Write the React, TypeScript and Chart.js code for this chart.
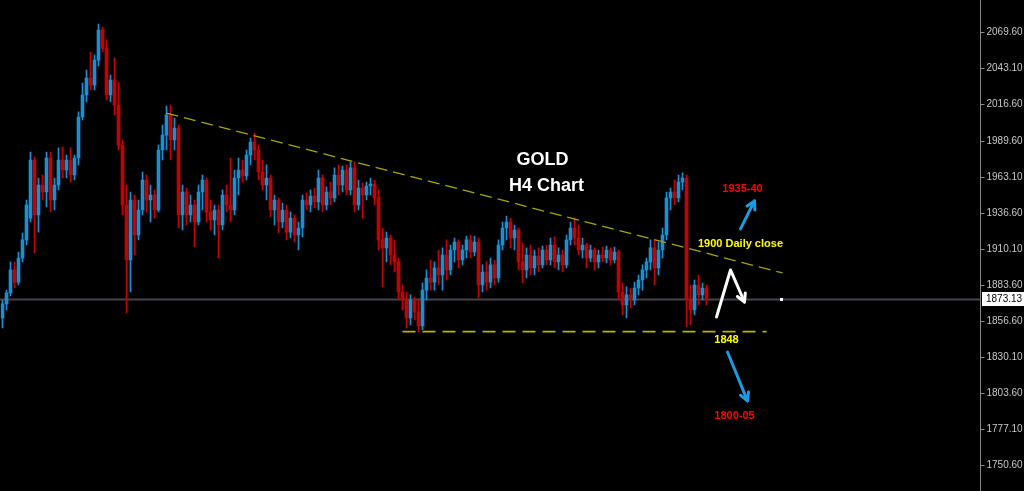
import React, { useEffect, useRef } from 'react';
import { Chart, registerables } from 'chart.js';

Chart.register(...registerables);

// ---- candle data (H4 gold) ----
const openPrices = [
  1859.4, 1869.7, 1877.8, 1894.7, 1885.8, 1903.5, 1916.8, 1932.9, 1975.6, 1935.2,
  1957.2, 1952.1, 1977.1, 1946.2, 1957.2, 1975.6, 1968.3, 1975.6, 1964.6, 1977.1,
  2007.3, 2023.5, 2036.0, 2030.8, 2049.2, 2071.3, 2058.1, 2023.5, 2034.5, 2016.1,
  1986.7, 1942.5, 1902.0, 1946.2, 1920.4, 1938.8, 1960.9, 1946.2, 1949.9, 1938.8,
  1983.0, 1994.0, 2008.8, 1990.4, 1999.2, 1935.2, 1952.1, 1935.2, 1942.5, 1930.0,
  1952.1, 1960.9, 1937.4, 1931.5, 1938.8, 1927.8, 1949.9, 1942.5, 1938.8, 1962.4,
  1968.3, 1963.9, 1979.3, 1988.9, 1983.0, 1966.8, 1957.2, 1962.4, 1938.8, 1946.2,
  1930.0, 1938.8, 1922.6, 1932.9, 1920.4, 1925.6, 1946.2, 1942.5, 1949.1, 1944.7,
  1962.4, 1942.5, 1952.1, 1947.7, 1964.6, 1957.2, 1968.3, 1953.6, 1969.8, 1942.5,
  1955.0, 1949.9, 1956.5, 1958.0, 1947.7, 1916.8, 1910.9, 1918.2, 1905.7, 1900.6,
  1878.5, 1872.6, 1859.4, 1872.6, 1863.8, 1853.5, 1879.9, 1888.8, 1885.8, 1896.2,
  1891.0, 1905.7, 1894.7, 1909.4, 1915.3, 1902.0, 1909.4, 1916.8, 1907.9, 1915.3,
  1883.6, 1893.2, 1885.8, 1898.4, 1888.8, 1913.1, 1925.6, 1930.0, 1918.2, 1924.1,
  1900.6, 1894.7, 1905.7, 1896.2, 1905.0, 1898.4, 1909.4, 1902.0, 1913.1, 1900.6,
  1905.7, 1898.4, 1916.8, 1925.6, 1918.2, 1909.4, 1913.1, 1903.5, 1909.4, 1900.6,
  1905.7, 1903.5, 1909.4, 1902.0, 1907.9, 1878.5, 1868.9, 1876.3, 1872.6, 1881.4,
  1887.3, 1894.7, 1900.6, 1910.9, 1896.2, 1909.4, 1920.4, 1947.7, 1952.1, 1947.7,
  1959.4, 1962.4, 1872.6, 1865.2, 1883.6, 1876.3, 1881.4,
];
const highPrices = [
  1872.6, 1879.9, 1900.6, 1900.6, 1907.9, 1921.9, 1946.2, 1981.5, 1977.8, 1962.4,
  1964.6, 1981.5, 1981.5, 1962.4, 1984.5, 1985.2, 1979.3, 1984.5, 1979.3, 2011.0,
  2032.3, 2041.9, 2055.1, 2052.9, 2075.7, 2073.5, 2064.0, 2038.2, 2050.7, 2033.0,
  1990.4, 1957.2, 1952.1, 1949.9, 1946.2, 1966.8, 1964.6, 1957.2, 1953.6, 1986.7,
  2001.4, 2015.4, 2016.1, 2006.5, 2001.4, 1957.2, 1955.0, 1949.9, 1946.2, 1957.2,
  1964.6, 1962.4, 1946.2, 1942.5, 1942.5, 1953.6, 1957.2, 1977.1, 1968.3, 1977.1,
  1975.6, 1983.0, 1991.8, 1995.5, 1986.7, 1975.6, 1972.0, 1964.6, 1949.9, 1947.7,
  1944.0, 1942.5, 1937.4, 1935.2, 1930.0, 1949.9, 1951.4, 1953.6, 1955.0, 1968.3,
  1964.6, 1955.8, 1959.4, 1969.8, 1972.0, 1971.2, 1972.0, 1974.2, 1974.2, 1960.9,
  1958.7, 1959.4, 1962.4, 1960.9, 1953.6, 1925.6, 1922.6, 1920.4, 1916.8, 1903.5,
  1883.6, 1878.5, 1876.3, 1874.8, 1872.6, 1885.1, 1894.7, 1902.0, 1900.6, 1909.4,
  1910.9, 1916.8, 1913.1, 1918.2, 1916.8, 1913.1, 1919.7, 1920.4, 1919.7, 1918.2,
  1898.4, 1900.6, 1903.5, 1902.0, 1916.8, 1930.0, 1934.4, 1932.9, 1927.8, 1925.6,
  1914.5, 1910.9, 1913.1, 1909.4, 1910.9, 1912.3, 1913.1, 1918.2, 1919.0, 1910.9,
  1909.4, 1920.4, 1930.0, 1932.9, 1927.8, 1918.2, 1914.5, 1913.1, 1910.9, 1909.4,
  1911.6, 1912.3, 1910.9, 1911.6, 1909.4, 1885.1, 1882.2, 1881.4, 1885.8, 1891.0,
  1898.4, 1903.5, 1916.8, 1916.8, 1915.3, 1925.6, 1952.1, 1955.0, 1960.9, 1964.6,
  1966.1, 1964.6, 1883.6, 1887.3, 1891.0, 1885.1, 1883.6,
];
const lowPrices = [
  1852.0, 1865.2, 1875.5, 1881.4, 1883.6, 1900.6, 1913.1, 1930.0, 1907.2, 1922.6,
  1946.2, 1941.1, 1937.4, 1938.8, 1953.6, 1962.4, 1962.4, 1959.4, 1960.9, 1972.0,
  2005.1, 2018.3, 2027.2, 2027.2, 2044.8, 2055.1, 2019.8, 2018.3, 2008.8, 1983.0,
  1935.2, 1863.0, 1878.5, 1905.7, 1916.8, 1935.2, 1937.4, 1930.0, 1932.9, 1937.4,
  1975.6, 1983.0, 1975.6, 1983.0, 1925.6, 1924.1, 1927.8, 1930.0, 1911.6, 1927.8,
  1938.8, 1930.0, 1924.1, 1920.4, 1903.5, 1924.1, 1937.4, 1930.0, 1935.2, 1949.9,
  1959.4, 1960.9, 1972.0, 1975.6, 1960.9, 1953.6, 1946.2, 1933.7, 1927.8, 1921.9,
  1925.6, 1916.8, 1918.2, 1915.3, 1909.4, 1919.0, 1938.8, 1937.4, 1940.3, 1938.8,
  1937.4, 1938.8, 1942.5, 1944.7, 1949.9, 1952.1, 1949.9, 1949.9, 1937.4, 1938.8,
  1932.9, 1946.2, 1949.9, 1942.5, 1909.4, 1882.2, 1900.6, 1898.4, 1893.2, 1872.6,
  1865.2, 1852.0, 1854.2, 1857.9, 1849.0, 1850.5, 1872.6, 1879.9, 1879.9, 1883.6,
  1879.9, 1887.3, 1891.0, 1900.6, 1896.2, 1898.4, 1903.5, 1903.5, 1905.0, 1874.1,
  1878.5, 1879.9, 1881.4, 1883.6, 1885.8, 1909.4, 1916.8, 1910.9, 1909.4, 1894.7,
  1885.1, 1888.8, 1891.0, 1891.0, 1893.2, 1896.2, 1898.4, 1898.4, 1896.2, 1894.7,
  1893.2, 1896.2, 1913.1, 1913.1, 1905.7, 1903.5, 1896.2, 1900.6, 1894.7, 1896.2,
  1900.6, 1899.8, 1898.4, 1899.8, 1872.6, 1861.6, 1859.4, 1866.7, 1868.9, 1876.3,
  1879.9, 1888.8, 1894.7, 1883.6, 1891.0, 1903.5, 1916.8, 1938.8, 1942.5, 1944.7,
  1953.6, 1852.7, 1854.2, 1861.6, 1868.9, 1872.6, 1868.9,
];
const closePrices = [
  1869.7, 1877.8, 1894.7, 1885.8, 1903.5, 1916.8, 1942.5, 1975.6, 1935.2, 1957.2,
  1952.1, 1977.1, 1946.2, 1957.2, 1975.6, 1968.3, 1975.6, 1964.6, 1977.1, 2007.3,
  2023.5, 2036.0, 2030.8, 2049.2, 2071.3, 2058.1, 2023.5, 2034.5, 2016.1, 1986.7,
  1942.5, 1902.0, 1946.2, 1920.4, 1938.8, 1960.9, 1946.2, 1949.9, 1938.8, 1983.0,
  1994.0, 2008.8, 1990.4, 1999.2, 1935.2, 1952.1, 1935.2, 1942.5, 1930.0, 1952.1,
  1960.9, 1937.4, 1931.5, 1938.8, 1927.8, 1949.9, 1942.5, 1938.8, 1962.4, 1968.3,
  1963.9, 1979.3, 1988.9, 1983.0, 1966.8, 1957.2, 1962.4, 1938.8, 1946.2, 1930.0,
  1938.8, 1922.6, 1932.9, 1920.4, 1925.6, 1946.2, 1942.5, 1949.1, 1944.7, 1962.4,
  1942.5, 1952.1, 1947.7, 1964.6, 1957.2, 1968.3, 1953.6, 1969.8, 1942.5, 1955.0,
  1949.9, 1956.5, 1958.0, 1947.7, 1916.8, 1910.9, 1918.2, 1905.7, 1900.6, 1878.5,
  1872.6, 1859.4, 1872.6, 1863.8, 1853.5, 1879.9, 1888.8, 1885.8, 1896.2, 1891.0,
  1905.7, 1894.7, 1909.4, 1915.3, 1902.0, 1909.4, 1916.8, 1907.9, 1915.3, 1883.6,
  1893.2, 1885.8, 1898.4, 1888.8, 1913.1, 1925.6, 1930.0, 1918.2, 1924.1, 1900.6,
  1894.7, 1905.7, 1896.2, 1905.0, 1898.4, 1909.4, 1902.0, 1913.1, 1900.6, 1905.7,
  1898.4, 1916.8, 1925.6, 1918.2, 1909.4, 1913.1, 1903.5, 1909.4, 1900.6, 1905.7,
  1903.5, 1909.4, 1902.0, 1907.9, 1878.5, 1868.9, 1876.3, 1872.6, 1881.4, 1887.3,
  1894.7, 1900.6, 1910.9, 1896.2, 1909.4, 1920.4, 1947.7, 1952.1, 1947.7, 1959.4,
  1962.4, 1872.6, 1865.2, 1883.6, 1876.3, 1881.4, 1874.1,
];
const futureSlotCount = 68;

// ---- axis ----
const yTickValues = [2069.6, 2043.1, 2016.6, 1989.6, 1963.1, 1936.6, 1910.1, 1883.6, 1856.6, 1830.1, 1803.6, 1777.1, 1750.6];
const yMin = 1732.0;
const yMax = 2093.4;
const lastPrice = 1873.13;

// ---- drawn objects (bar slot index, price) ----
const trendLineIdx = [41, 195];
const trendLinePrice = [2010.2, 1892.5];
const supportLineIdx = [100, 191];
const supportLinePrice = [1849.3, 1849.3];
const noteTexts = ['GOLD', 'H4 Chart', '1935-40', '1900 Daily close', '1848', '1800-05'];
const noteIndex = [135, 136, 185, 184.5, 181, 183];
const notePrice = [1975.6, 1956.5, 1954.3, 1913.8, 1843.2, 1787.2];
const noteColors = ['#ffffff', '#ffffff', '#ff0000', '#ffff00', '#ffff00', '#ff0000'];
const noteSizes = [18, 18, 11, 11, 11, 11];
const arrowPaths = [
  [{ x: 184.5, y: 1924.9 }, { x: 188, y: 1945.5 }],
  [{ x: 178.5, y: 1860.1 }, { x: 182, y: 1894.7 }, { x: 185.5, y: 1871.1 }],
  [{ x: 181.25, y: 1834.3 }, { x: 186.25, y: 1798.3 }],
];
const arrowColors = ['#1c9ce0', '#ffffff', '#1c9ce0'];
const markerIndex = 194.5;

const UP = '#1a8fd4';
const DOWN = '#c80000';

const slotLabel = (i: number) => (i < openPrices.length ? 'c' + i : 'f' + (i - openPrices.length));

function drawArrow(ctx: CanvasRenderingContext2D, pts: number[][], color: string) {
  ctx.save();
  ctx.strokeStyle = color;
  ctx.lineWidth = 3;
  ctx.lineCap = 'round';
  ctx.lineJoin = 'round';
  ctx.beginPath();
  pts.forEach((p, i) => (i ? ctx.lineTo(p[0], p[1]) : ctx.moveTo(p[0], p[1])));
  ctx.stroke();
  const [x1, y1] = pts[pts.length - 2];
  const [x2, y2] = pts[pts.length - 1];
  const a = Math.atan2(y2 - y1, x2 - x1);
  const L = 9;
  ctx.beginPath();
  ctx.moveTo(x2 - L * Math.cos(a - 0.5), y2 - L * Math.sin(a - 0.5));
  ctx.lineTo(x2, y2);
  ctx.lineTo(x2 - L * Math.cos(a + 0.5), y2 - L * Math.sin(a + 0.5));
  ctx.stroke();
  ctx.restore();
}

const notesPlugin = {
  id: 'notes',
  beforeDatasetsDraw(chart: any) {
    const { ctx, chartArea, scales } = chart;
    const y = Math.round(scales.y.getPixelForValue(lastPrice)) + 0.5;
    ctx.save();
    ctx.strokeStyle = '#45454e';
    ctx.lineWidth = 2;
    ctx.beginPath();
    ctx.moveTo(0, y);
    ctx.lineTo(chartArea.right, y);
    ctx.stroke();
    ctx.restore();
  },
  afterDatasetsDraw(chart: any) {
    const { ctx, scales } = chart;
    const xs = scales.x;
    const ys = scales.y;
    ctx.save();
    ctx.textAlign = 'center';
    ctx.textBaseline = 'middle';
    noteTexts.forEach((t, i) => {
      ctx.font = `bold ${noteSizes[i]}px "Liberation Sans", Arial, sans-serif`;
      ctx.fillStyle = noteColors[i];
      ctx.fillText(t, xs.getPixelForValue(noteIndex[i]), ys.getPixelForValue(notePrice[i]));
    });
    ctx.restore();
    arrowPaths.forEach((path, i) => {
      const pts = path.map((p) => [xs.getPixelForValue(p.x), ys.getPixelForValue(p.y)]);
      drawArrow(ctx, pts, arrowColors[i]);
    });
    const mx = xs.getPixelForValue(markerIndex);
    const my = ys.getPixelForValue(lastPrice);
    ctx.save();
    ctx.fillStyle = '#ffffff';
    ctx.fillRect(Math.round(mx) - 1, Math.round(my) - 1, 3, 3);
    ctx.restore();
  },
  afterDraw(chart: any) {
    const { ctx, chartArea, scales } = chart;
    const y = Math.round(scales.y.getPixelForValue(lastPrice));
    const x0 = Math.round(chartArea.right) + 1;
    ctx.save();
    ctx.fillStyle = '#ffffff';
    ctx.fillRect(x0, y - 7, 42, 14);
    ctx.fillStyle = '#000000';
    ctx.font = '10px "Liberation Sans", Arial, sans-serif';
    ctx.textAlign = 'left';
    ctx.textBaseline = 'middle';
    ctx.fillText(lastPrice.toFixed(2), x0 + 4, y + 0.5);
    ctx.restore();
  },
};

export default function App() {
  const ref = useRef<HTMLCanvasElement>(null);
  useEffect(() => {
    document.body.style.margin = '0';
    document.body.style.background = '#000';
    const canvas = ref.current!;
    const total = openPrices.length + futureSlotCount;
    const labels = Array.from({ length: total }, (_, i) => slotLabel(i));
    const colors = closePrices.map((c, i) => (c >= openPrices[i] ? UP : DOWN));
    const chart = new Chart(canvas, {
      type: 'bar',
      data: {
        labels,
        datasets: [
          {
            type: 'line',
            data: trendLineIdx.map((ix, k) => ({ x: slotLabel(ix), y: trendLinePrice[k] })) as any,
            borderColor: '#a6a600',
            borderWidth: 1.3,
            borderDash: [12, 6],
            pointRadius: 0,
            order: -1,
          } as any,
          {
            type: 'line',
            data: supportLineIdx.map((ix, k) => ({ x: slotLabel(ix), y: supportLinePrice[k] })) as any,
            borderColor: '#b4b400',
            borderWidth: 1.8,
            borderDash: [13, 7],
            pointRadius: 0,
            order: -1,
          } as any,
          {
            data: lowPrices.map((l, i) => [l, highPrices[i]]) as any,
            backgroundColor: colors,
            barThickness: 1,
            grouped: false,
            order: 2,
          } as any,
          {
            data: openPrices.map((o, i) => [o, closePrices[i]]) as any,
            backgroundColor: colors,
            barThickness: 3,
            grouped: false,
            order: 1,
          } as any,
        ],
      },
      options: {
        animation: false,
        responsive: false,
        events: [],
        layout: { padding: { left: 0.5, right: 0, top: 0, bottom: 0 } },
        plugins: { legend: { display: false }, tooltip: { enabled: false } },
        scales: {
          x: { type: 'category', display: false, offset: true },
          y: {
            position: 'right',
            min: yMin,
            max: yMax,
            afterFit: (s: any) => {
              s.width = 43.5;
              s.paddingTop = 0;
              s.paddingBottom = 0;
            },
            afterBuildTicks: (s: any) => {
              s.ticks = yTickValues.map((v) => ({ value: v }));
            },
            ticks: {
              autoSkip: false,
              color: '#c8c8c8',
              font: { family: 'Liberation Sans', size: 10 },
              padding: 2,
              callback: (v: any) => Number(v).toFixed(2),
            },
            grid: { drawOnChartArea: false, drawTicks: true, tickLength: 4, color: '#8a8a8a' },
            border: { display: true, color: '#8a8a8a' },
          },
        },
      } as any,
      plugins: [notesPlugin],
    });
    return () => chart.destroy();
  }, []);
  return (
    <div style={{ position: 'fixed', left: 0, top: 0, width: 1024, height: 491, background: '#000' }}>
      <canvas ref={ref} width={1024} height={491} style={{ display: 'block' }} />
    </div>
  );
}
